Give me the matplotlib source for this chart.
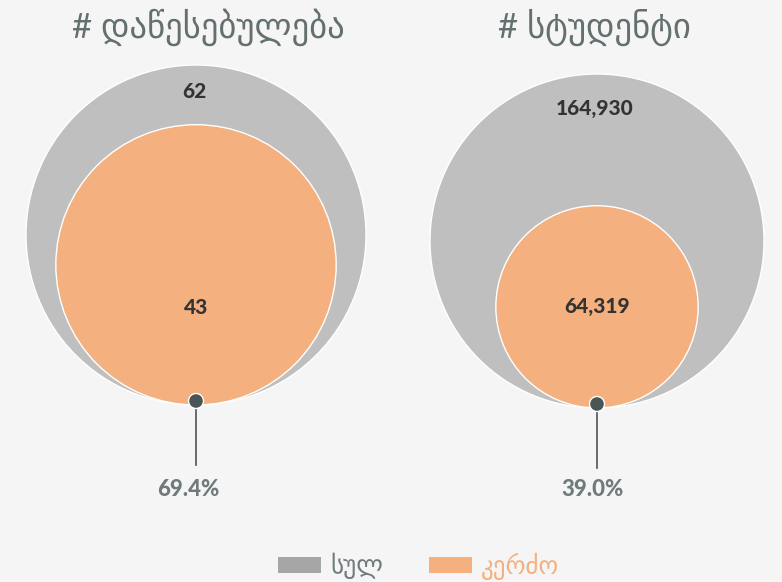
import matplotlib
matplotlib.use("Agg")
import matplotlib.pyplot as plt
from matplotlib.patches import Circle, Rectangle
import numpy as np

plt.rcParams['font.family'] = ['Lato', 'DejaVu Sans']

# data
titles = ["# დაწესებულება", "# სტუდენტი"]
totals = [62, 164930]
private = [43, 64319]
legend_labels = ["სულ", "კერძო"]

col_total = "#bfbfbf"
col_private = "#f4b07f"
col_dot = "#4b5555"
col_text = "#6f7b7b"
bg = "#f5f5f5"

fig = plt.figure(figsize=(7.82, 5.82), dpi=100, facecolor=bg)
ax = fig.add_axes([0, 0, 1, 1])
ax.set_facecolor(bg)
ax.set_xlim(0, 782)
ax.set_ylim(582, 0)
ax.set_aspect("equal")
ax.axis("off")

centers_x = [196, 597]
outer_r = [170, 167]
bottom_y = [405, 408]
title_x = [208, 594]
outer_label_dy = [27, 34]
pct_x = [188, 593]

for i in range(2):
    cx = centers_x[i]
    R = outer_r[i]
    r = R * np.sqrt(private[i] / totals[i]) * (0.99 if i == 0 else 0.97)
    cy_out = bottom_y[i] - R
    cy_in = bottom_y[i] - r
    ax.add_patch(Circle((cx, cy_out), R, facecolor=col_total, edgecolor="white", lw=1, zorder=1))
    ax.add_patch(Circle((cx, cy_in), r, facecolor=col_private, edgecolor="white", lw=1, zorder=2))
    ax.text(cx - 2, cy_out - R + outer_label_dy[i], f"{totals[i]:,}", ha="center", va="center",
            fontsize=15, fontweight="black", color="#333333", zorder=3)
    ax.text(cx, 307, f"{private[i]:,}", ha="center", va="center",
            fontsize=15, fontweight="black", color="#333333", zorder=3)
    # pointer
    ax.plot([cx, cx], [bottom_y[i] - 4, bottom_y[i] + 60], color=col_dot, lw=1.2, zorder=3)
    ax.add_patch(Circle((cx, bottom_y[i] - 4), 7.5, facecolor=col_dot, edgecolor="white", lw=1, zorder=4))
    pct = private[i] / totals[i] * 100
    ax.text(pct_x[i], 490, f"{pct:.1f}%", ha="center", va="center",
            fontsize=16, fontweight="black", color=col_text, zorder=3)
    ax.text(title_x[i], 27, titles[i], ha="center", va="center",
            fontsize=25, color="#647070")

# legend
ax.add_patch(Rectangle((278, 557), 43, 16, facecolor="#a6a6a6", edgecolor="none"))
ax.text(330, 566, legend_labels[0], ha="left", va="center", fontsize=18, color=col_text)
ax.add_patch(Rectangle((429, 557), 43, 16, facecolor=col_private, edgecolor="none"))
ax.text(481, 566, legend_labels[1], ha="left", va="center", fontsize=18, color=col_private)

fig.savefig("out.png", dpi=100, facecolor=bg)
